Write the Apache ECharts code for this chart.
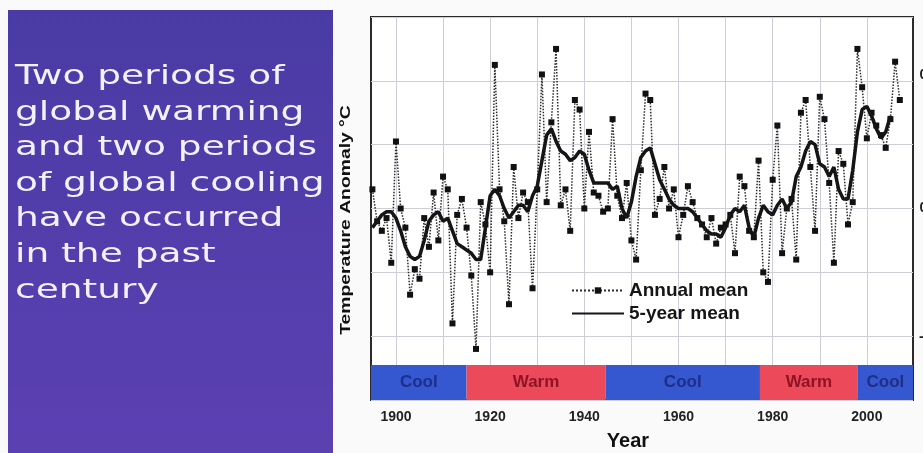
<!DOCTYPE html>
<html>
<head>
<meta charset="utf-8">
<script src="https://cdn.jsdelivr.net/npm/echarts@6/dist/echarts.min.js"></script>
<style>
html,body{margin:0;padding:0;background:#fafafa;}
#c{width:923px;height:453px;}
</style>
</head>
<body>
<div id="c"></div>
<script>
// ---- data ----
const annualYears = [1895,1896,1897,1898,1899,1900,1901,1902,1903,1904,1905,1906,1907,1908,1909,
1910,1911,1912,1913,1914,1915,1916,1917,1918,1919,1920,1921,1922,1923,1924,1925,1926,1927,1928,1929,
1930,1931,1932,1933,1934,1935,1936,1937,1938,1939,1940,1941,1942,1943,1944,1945,1946,1947,1948,1949,
1950,1951,1952,1953,1954,1955,1956,1957,1958,1959,1960,1961,1962,1963,1964,1965,1966,1967,1968,1969,
1970,1971,1972,1973,1974,1975,1976,1977,1978,1979,1980,1981,1982,1983,1984,1985,1986,1987,1988,1989,
1990,1991,1992,1993,1994,1995,1996,1997,1998,1999,2000,2001,2002,2003,2004,2005,2006,2007];
const annualMean = [0.06,-0.04,-0.07,-0.03,-0.17,0.21,0.00,-0.06,-0.27,-0.19,-0.22,-0.03,-0.12,0.05,-0.10,
0.10,0.06,-0.36,-0.02,0.03,-0.06,-0.21,-0.44,0.02,-0.05,-0.20,0.45,0.06,-0.04,-0.30,0.13,-0.03,0.05,0.02,-0.25,
0.06,0.42,0.02,0.27,0.50,0.01,0.06,-0.07,0.34,0.31,0.00,0.24,0.05,0.04,-0.01,0.00,0.28,0.04,-0.03,0.08,
-0.10,-0.16,0.12,0.36,0.34,-0.02,0.03,0.13,0.00,0.06,-0.09,-0.02,0.07,0.02,-0.03,-0.05,-0.09,-0.03,-0.11,-0.06,
-0.05,-0.02,-0.14,0.10,0.07,-0.07,-0.09,0.15,-0.20,-0.23,0.09,0.26,-0.14,0.00,0.03,-0.16,0.30,0.34,0.13,-0.07,
0.35,0.28,0.08,-0.17,0.18,0.14,-0.05,0.02,0.50,0.38,0.22,0.30,0.26,0.23,0.19,0.28,0.46,0.34];

const fiveYearYears = [1895,1896,1897,1898,1899,1900,1901,1902,1903,1904,1905,1906,1907,1908,1909,
1910,1911,1912,1913,1914,1915,1916,1917,1918,1919,1920,1921,1922,1923,1924,1925,1926,1927,1928,1929,
1930,1931,1932,1933,1934,1935,1936,1937,1938,1939,1940,1941,1942,1943,1944,1945,1946,1947,1948,1949,
1950,1951,1952,1953,1954,1955,1956,1957,1958,1959,1960,1961,1962,1963,1964,1965,1966,1967,1968,1969,
1970,1971,1972,1973,1974,1975,1976,1977,1978,1979,1980,1981,1982,1983,1984,1985,1986,1987,1988,1989,
1990,1991,1992,1993,1994,1995,1996,1997,1998,1999,2000,2001,2002,2003,2004,2005];
const fiveYearMean = [-0.06,-0.04,-0.02,-0.01,-0.01,-0.03,-0.07,-0.12,-0.15,-0.16,-0.15,-0.10,-0.04,-0.02,-0.01,
-0.04,-0.03,-0.07,-0.11,-0.12,-0.13,-0.14,-0.16,-0.16,-0.06,0.04,0.06,0.04,0.00,-0.03,-0.01,0.01,0.01,-0.01,0.04,
0.07,0.15,0.23,0.25,0.21,0.18,0.17,0.15,0.16,0.18,0.17,0.12,0.08,0.08,0.08,0.08,0.06,0.07,0.00,-0.03,
0.02,0.10,0.16,0.18,0.19,0.14,0.09,0.06,0.03,0.01,0.00,0.00,0.00,-0.01,-0.03,-0.05,-0.07,-0.08,-0.08,-0.09,
-0.06,-0.02,0.00,-0.01,0.01,-0.06,-0.09,-0.03,0.01,-0.01,-0.02,0.01,0.03,0.00,0.02,0.10,0.13,0.18,0.21,0.20,
0.14,0.13,0.10,0.13,0.06,0.03,0.03,0.12,0.24,0.31,0.32,0.29,0.25,0.22,0.24,0.29];

const gridYears = [1900,1910,1920,1930,1940,1950,1960,1970,1980,1990,2000];
const labelYears = [1900,1920,1940,1960,1980,2000];

const bandNames = ['Cool','Warm','Cool','Warm','Cool'];
const bandStarts = [1894.7,1915,1944.5,1977.3,1998.1];
const bandEnds = [1915,1944.5,1977.3,1998.1,2009.8];

const headline = ['Two periods of','global warming','and two periods','of global cooling','have occurred','in the past','century'];

// ---- styles ----
const COOL = '#3557cf', WARM = '#ec4a5b';
const COOL_TXT = '#1d2f86', WARM_TXT = '#8e1424';
const SANS = '"Liberation Sans", Arial, sans-serif';

const chart = echarts.init(document.getElementById('c'), null, {renderer:'canvas', width:923, height:453});

const bandData = bandNames.map((n,i)=>[
  {name:n, xAxis:bandStarts[i], yAxis:-0.6,
   itemStyle:{color: n==='Cool'?COOL:WARM},
   label:{color: n==='Cool'?COOL_TXT:WARM_TXT}},
  {xAxis:bandEnds[i], yAxis:-0.49}
]);

const graphics = [
  {type:'rect', z:-10, shape:{x:8,y:10,width:325,height:443},
   style:{fill:new echarts.graphic.LinearGradient(0,0,0,1,[{offset:0,color:'#4a3ba4'},{offset:1,color:'#5b40b2'}])}},
];
headline.forEach((t,i)=>{
  graphics.push({type:'text', x:15, y:77+i*35.6, scaleX:1.39, z:5,
    style:{text:t, font:'27px "DejaVu Sans", sans-serif', fill:'#f4f1ff', textVerticalAlign:'middle',
      shadowColor:'rgba(20,10,60,0.8)', shadowBlur:2, shadowOffsetX:1, shadowOffsetY:1}});
});
graphics.push({type:'text', x:346, y:220, rotation:Math.PI/2, scaleX:1.38, z:5,
  style:{text:'Temperature Anomaly \u00B0C', font:'bold 14px '+SANS, fill:'#111', textAlign:'center', textVerticalAlign:'middle'}});
graphics.push({type:'text', x:628, y:441, z:5,
  style:{text:'Year', font:'bold 20px '+SANS, fill:'#111', textAlign:'center', textVerticalAlign:'middle'}});
[75,208].forEach(y=>graphics.push({type:'text', x:919.5, y:y, z:5,
  style:{text:'0', font:'bold 14px '+SANS, fill:'#222', textVerticalAlign:'middle'}}));
graphics.push({type:'text', x:919, y:337, z:5,
  style:{text:'-', font:'bold 14px '+SANS, fill:'#222', textVerticalAlign:'middle'}});

chart.setOption({
  animation:false,
  backgroundColor:'#fafafa',
  graphic: graphics,
  grid:{left:371, right:10, top:17, bottom:53, show:true, backgroundColor:'#ffffff', borderColor:'#2a2a2a', borderWidth:2},
  legend:{
    orient:'vertical', left:566, top:276, itemWidth:52, itemHeight:8, itemGap:4,
    textStyle:{fontFamily:SANS, fontWeight:'bold', fontSize:19, color:'#151515'},
    data:[{name:'Annual mean'}, {name:'5-year mean', itemStyle:{opacity:0}}]
  },
  xAxis:{
    type:'value', min:1894.7, max:2009.8,
    axisLine:{show:false},
    axisTick:{show:false, customValues:gridYears},
    axisLabel:{customValues:labelYears, formatter:v=>String(v), fontFamily:SANS, fontWeight:'bold', fontSize:14, color:'#222', margin:10},
    splitLine:{show:true, lineStyle:{color:'#cdced6', width:1}}
  },
  yAxis:{
    type:'value', min:-0.6, max:0.6, interval:0.2,
    axisLine:{show:false}, axisTick:{show:false}, axisLabel:{show:false},
    splitLine:{show:true, lineStyle:{color:'#cdced6', width:1}}
  },
  series:[
    {name:'Annual mean', type:'line', z:3,
     data: annualYears.map((y,i)=>[y, annualMean[i]]),
     symbol:'rect', symbolSize:6, showSymbol:true,
     lineStyle:{type:'dotted', width:1.5, color:'#2a2a2a'},
     itemStyle:{color:'#111'}},
    {name:'5-year mean', type:'line', z:4,
     data: fiveYearYears.map((y,i)=>[y, fiveYearMean[i]]),
     symbol:'none', showSymbol:false,
     lineStyle:{width:3.5, color:'#151515'},
     itemStyle:{color:'#151515'},
     markArea:{silent:true,
       label:{show:true, position:'inside', fontFamily:SANS, fontWeight:'bold', fontSize:17},
       data: bandData}}
  ]
});
</script>
</body>
</html>
